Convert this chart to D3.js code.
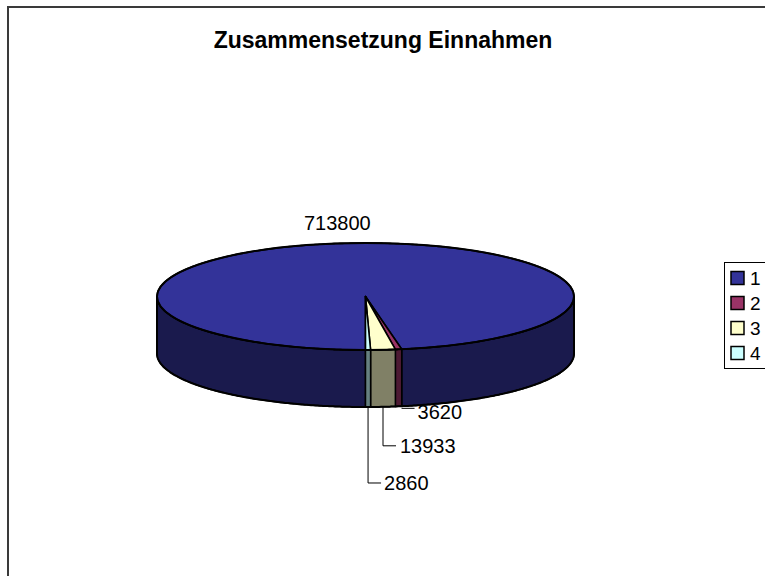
<!DOCTYPE html>
<html>
<head>
<meta charset="utf-8">
<script src="https://cdn.jsdelivr.net/npm/d3@7"></script>
<style>
  html, body { margin: 0; padding: 0; background: #fff; }
  svg { display: block; }
  text { font-family: Arial, "Liberation Sans", sans-serif; }
</style>
</head>
<body>
<svg id="chart" width="765" height="576"></svg>
<script>
// ---- data ----
const title = "Zusammensetzung Einnahmen";
const categories = ["1", "2", "3", "4"];
const values = [713800, 3620, 13933, 2860];
const topColors = ["#333399", "#993366", "#FFFFCC", "#CCFFFF"];
const sideColors = ["#1a1a4d", "#4d1a33", "#808066", "#668080"];

// ---- layout ----
const svg = d3.select("#chart");
const W = 765, H = 576;
const cx = 365.5, cy = 296.5, rx = 208.5, ry = 53.5, depth = 57;

// outer chart border: only top and left edges are inside the visible area
svg.append("path").attr("d", `M8,${H + 5}V7H${W + 5}`)
  .attr("fill", "none").attr("stroke", "#3a3a3a").attr("stroke-width", 2);

svg.append("text").attr("x", 383).attr("y", 48).attr("text-anchor", "middle")
  .attr("font-size", 23).attr("font-weight", "bold").attr("fill", "#000").text(title);

const pie = d3.pie().sort(null).startAngle(Math.PI).endAngle(3 * Math.PI);
const arcs = pie(values).map((d, i) => ({ ...d, i }));

const px = a => cx + rx * Math.sin(a);
const py = a => cy - ry * Math.cos(a);
const line = d3.line();
function samples(a0, a1) {
  const n = Math.max(2, Math.ceil(Math.abs(a1 - a0) / 0.01));
  return d3.range(n + 1).map(k => a0 + (a1 - a0) * k / n);
}

// side walls (front half only)
const wallG = svg.append("g");
arcs.forEach(d => {
  const fronts = [[Math.PI / 2, 3 * Math.PI / 2], [5 * Math.PI / 2, 7 * Math.PI / 2]];
  fronts.forEach(([f0, f1]) => {
    const a0 = Math.max(d.startAngle, f0), a1 = Math.min(d.endAngle, f1);
    if (a1 <= a0) return;
    const s = samples(a0, a1);
    const pts = s.map(a => [px(a), py(a)]).concat(s.slice().reverse().map(a => [px(a), py(a) + depth]));
    wallG.append("path").attr("d", line(pts) + "Z")
      .attr("fill", sideColors[d.i]).attr("stroke", "#000").attr("stroke-width", 1.5)
      .attr("stroke-linejoin", "round");
  });
});
{
  const s = samples(Math.PI / 2, 3 * Math.PI / 2);
  const pts = [[px(Math.PI / 2), py(Math.PI / 2)]].concat(s.map(a => [px(a), py(a) + depth]))
    .concat([[px(3 * Math.PI / 2), py(3 * Math.PI / 2)]]);
  wallG.append("path").attr("d", line(pts)).attr("fill", "none")
    .attr("stroke", "#000").attr("stroke-width", 2);
}

// top faces
const topG = svg.append("g");
arcs.forEach(d => {
  const s = samples(d.startAngle, d.endAngle);
  const pts = [[cx, cy]].concat(s.map(a => [px(a), py(a)]));
  topG.append("path").attr("d", line(pts) + "Z")
    .attr("fill", topColors[d.i]).attr("stroke", "#000").attr("stroke-width", 1.6)
    .attr("stroke-linejoin", "round");
});
topG.append("ellipse").attr("cx", cx).attr("cy", cy).attr("rx", rx).attr("ry", ry)
  .attr("fill", "none").attr("stroke", "#000").attr("stroke-width", 2);

// ---- data labels ----
const fmt = d3.format("d");
const labG = svg.append("g").attr("font-size", 20).attr("fill", "#000");
{
  const d = arcs[0];
  const mid = (d.startAngle + d.endAngle) / 2;
  labG.append("text").attr("x", px(mid) - 10).attr("y", py(mid) - 13)
    .attr("text-anchor", "middle").text(fmt(d.value));
}
const leaderSpec = [null, { drop: 0, run: 13, gap: 3 }, { drop: 39, run: 13, gap: 4 }, { drop: 76, run: 13, gap: 3 }];
arcs.forEach(d => {
  const sp = leaderSpec[d.i];
  if (!sp) return;
  const mid = (d.startAngle + d.endAngle) / 2;
  const x0 = px(mid), y0 = py(mid) + depth;
  let pts, ly, xs;
  if (sp.drop === 0) {
    ly = y0 + 2;
    xs = x0 + 3;
    pts = [[xs, ly], [xs + sp.run, ly]];
  } else {
    ly = y0 + sp.drop;
    xs = x0;
    pts = [[x0, y0], [x0, ly], [x0 + sp.run, ly]];
  }
  labG.append("path").attr("d", line(pts)).attr("fill", "none")
    .attr("stroke", "#000").attr("stroke-width", 1);
  labG.append("text").attr("x", xs + sp.run + sp.gap).attr("y", ly + (sp.drop === 0 ? 11 : 7))
    .text(fmt(d.value));
});

// ---- legend ----
const lg = svg.append("g");
lg.append("rect").attr("x", 724.5).attr("y", 262.5).attr("width", 60).attr("height", 106)
  .attr("fill", "#fff").attr("stroke", "#000").attr("stroke-width", 1);
const lyScale = d3.scalePoint().domain(categories).range([278, 353]);
categories.forEach((c, i) => {
  lg.append("rect").attr("x", 731).attr("y", lyScale(c) - 6.5).attr("width", 13).attr("height", 13)
    .attr("fill", topColors[i]).attr("stroke", "#000").attr("stroke-width", 1.5);
  lg.append("text").attr("x", 750).attr("y", lyScale(c) + 7).attr("font-size", 19).text(c);
});
</script>
</body>
</html>
